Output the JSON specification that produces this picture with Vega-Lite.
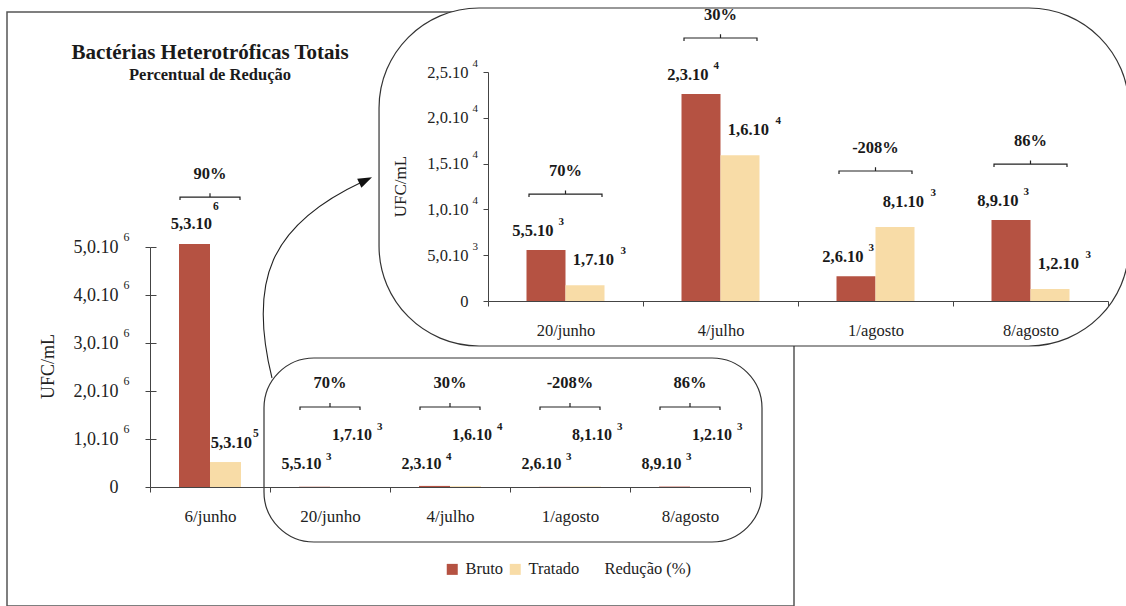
{
"$schema": "https://vega.github.io/schema/vega-lite/v6.json",
"autosize": {"type": "none"},
"padding": {"left": 7, "top": 12, "right": 332, "bottom": 0},
"width": 787,
"height": 594,
"background": "white",
"datasets": {
"medidas": [
{"data": "6/junho", "tipo": "Bruto", "valor": 5060000, "rotulo": "5,3.10", "expoente": "6"},
{"data": "6/junho", "tipo": "Tratado", "valor": 520000, "rotulo": "5,3.10", "expoente": "5"},
{"data": "20/junho", "tipo": "Bruto", "valor": 5560, "rotulo": "5,5.10", "expoente": "3"},
{"data": "20/junho", "tipo": "Tratado", "valor": 1730, "rotulo": "1,7.10", "expoente": "3"},
{"data": "4/julho", "tipo": "Bruto", "valor": 22600, "rotulo": "2,3.10", "expoente": "4"},
{"data": "4/julho", "tipo": "Tratado", "valor": 15900, "rotulo": "1,6.10", "expoente": "4"},
{"data": "1/agosto", "tipo": "Bruto", "valor": 2700, "rotulo": "2,6.10", "expoente": "3"},
{"data": "1/agosto", "tipo": "Tratado", "valor": 8080, "rotulo": "8,1.10", "expoente": "3"},
{"data": "8/agosto", "tipo": "Bruto", "valor": 8840, "rotulo": "8,9.10", "expoente": "3"},
{"data": "8/agosto", "tipo": "Tratado", "valor": 1300, "rotulo": "1,2.10", "expoente": "3"}
],
"reducoes": [
{"data": "6/junho", "reducao": 0.90},
{"data": "20/junho", "reducao": 0.70},
{"data": "4/julho", "reducao": 0.30},
{"data": "1/agosto", "reducao": -2.08},
{"data": "8/agosto", "reducao": 0.86}
],
"titulos": [
{"texto": "Bactérias Heterotróficas Totais", "nivel": "titulo"},
{"texto": "Percentual de Redução", "nivel": "subtitulo"}
]
},
"resolve": {"scale": {"x": "independent", "y": "independent", "xOffset": "independent", "color": "shared"}, "axis": {"x": "independent", "y": "independent"}},
"layer": [
{"data": {"values": [{}]},
 "mark": {"type": "rect", "fill": "white", "stroke": "#333", "strokeWidth": 1.2, "cornerRadius": 100},
 "encoding": {
  "x": {"datum": -0.703, "type": "quantitative", "scale": {"type": "linear", "domain": [0, 4], "range": [481, 1101], "nice": false, "zero": false}, "axis": null},
  "x2": {"datum": 4.135},
  "y": {"datum": 31987, "type": "quantitative", "scale": {"type": "linear", "domain": [0, 25000], "range": [289, 60], "nice": false, "zero": false}, "axis": null},
  "y2": {"datum": -4913}}},
{"data": {"values": [{}]},
 "mark": {"type": "rect", "fill": "transparent", "stroke": "#333", "strokeWidth": 1.2, "cornerRadius": 50},
 "encoding": {
  "x": {"datum": 0.95, "type": "quantitative", "scale": {"type": "linear", "domain": [0, 5], "range": [143, 743], "nice": false, "zero": false}, "axis": null},
  "x2": {"datum": 5.1},
  "y": {"datum": 2687500, "type": "quantitative", "scale": {"type": "linear", "domain": [0, 5000000], "range": [475, 235], "nice": false, "zero": false}, "axis": null},
  "y2": {"datum": -1145833}}},
{"data": {"values": [{}]},
 "mark": {"type": "point", "shape": "M-0.58,0.974C-0.82,0.004,-0.6,-0.556,0.32,-0.986", "size": 40000, "filled": false, "stroke": "#222", "strokeWidth": 1.1, "opacity": 1},
 "encoding": {
  "x": {"datum": 1.5, "type": "quantitative", "scale": {"type": "linear", "domain": [0, 5], "range": [143, 743], "nice": false, "zero": false}, "axis": null},
  "y": {"datum": 4300000, "type": "quantitative", "scale": {"type": "linear", "domain": [0, 5000000], "range": [475, 235], "nice": false, "zero": false}, "axis": null}}},
{"data": {"values": [{}]},
 "mark": {"type": "point", "shape": "M0.42,-1.033L0.314,-0.928L0.272,-1.018Z", "size": 40000, "filled": true, "fill": "#111", "strokeWidth": 0, "opacity": 1},
 "encoding": {
  "x": {"datum": 1.5, "type": "quantitative", "scale": {"type": "linear", "domain": [0, 5], "range": [143, 743], "nice": false, "zero": false}, "axis": null},
  "y": {"datum": 4300000, "type": "quantitative", "scale": {"type": "linear", "domain": [0, 5000000], "range": [475, 235], "nice": false, "zero": false}, "axis": null}}},
{"data": {"name": "titulos"},
 "transform": [{"filter": "datum.nivel == 'titulo'"}],
 "mark": {"type": "text", "align": "center", "fontSize": 21},
 "encoding": {
  "x": {"datum": "6/junho", "type": "nominal", "scale": {"type": "band", "domain": ["6/junho", "20/junho", "4/julho", "1/agosto", "8/agosto"], "range": [143, 743], "paddingInner": 0, "paddingOuter": 0}, "axis": null},
  "y": {"datum": 9041667, "type": "quantitative", "scale": {"type": "linear", "domain": [0, 5000000], "range": [475, 235], "nice": false, "zero": false}, "axis": null},
  "text": {"field": "texto", "type": "nominal"}}},
{"data": {"name": "titulos"},
 "transform": [{"filter": "datum.nivel == 'subtitulo'"}],
 "mark": {"type": "text", "align": "center", "fontSize": 16.5},
 "encoding": {
  "x": {"datum": "6/junho", "type": "nominal", "scale": {"type": "band", "domain": ["6/junho", "20/junho", "4/julho", "1/agosto", "8/agosto"], "range": [143, 743], "paddingInner": 0, "paddingOuter": 0}, "axis": null},
  "y": {"datum": 8583333, "type": "quantitative", "scale": {"type": "linear", "domain": [0, 5000000], "range": [475, 235], "nice": false, "zero": false}, "axis": null},
  "text": {"field": "texto", "type": "nominal"}}},
{"data": {"name": "medidas"},
 "mark": {"type": "bar"},
 "encoding": {
  "x": {"field": "data", "type": "nominal", "sort": null, "scale": {"type": "band", "domain": ["6/junho", "20/junho", "4/julho", "1/agosto", "8/agosto"], "range": [143, 743], "paddingInner": 0, "paddingOuter": 0},
        "axis": {"orient": "bottom", "zindex": 1, "title": null, "offset": -119, "tickBand": "extent", "tickSize": 5, "labelFontSize": 17, "labelPadding": 16, "labelAngle": 0}},
  "xOffset": {"field": "tipo", "type": "nominal", "scale": {"type": "band", "domain": ["Bruto", "Tratado"], "paddingInner": 0, "paddingOuter": 0.9355}},
  "y": {"field": "valor", "type": "quantitative", "scale": {"type": "linear", "domain": [0, 5000000], "range": [475, 235], "nice": false, "zero": false},
        "axis": {"orient": "left", "zindex": 1, "values": [0, 1000000, 2000000, 3000000, 4000000, 5000000], "offset": -143, "tickSize": 5, "labelFontSize": 18, "labelPadding": 27,
                 "labelExpr": "datum.value == 0 ? '0' : replace(format(datum.value / 1000000, '.1f'), '.', ',') + '.10'",
                 "title": "UFC/mL", "titleFontSize": 18, "titleX": -102, "titleY": 354, "titleAngle": -90, "titleAlign": "center", "titleBaseline": "middle"}},
  "color": {"field": "tipo", "type": "nominal", "scale": {"domain": ["Bruto", "Tratado", "Redução (%)"], "range": ["#b55242", "#f8dca7", "transparent"]},
            "legend": {"orient": "none", "legendX": 437, "legendY": 549, "direction": "horizontal", "title": null, "symbolType": "square", "symbolSize": 121, "symbolStrokeWidth": 0, "labelFont": "Liberation Serif", "labelFontSize": 16.5, "labelColor": "#222", "labelOffset": 5, "columnPadding": 3, "padding": 0}}}},
{"data": {"name": "medidas"},
 "mark": {"type": "point", "opacity": 0},
 "encoding": {
  "y": {"field": "valor", "type": "quantitative", "scale": {"type": "linear", "domain": [0, 5000000], "range": [475, 235], "nice": false, "zero": false},
        "axis": {"orient": "left", "zindex": 1, "values": [1000000, 2000000, 3000000, 4000000, 5000000], "offset": -143, "ticks": false, "domain": false, "labelAlign": "left", "labelPadding": 27, "labelFontSize": 12, "labelOffset": -11, "labelExpr": "'6'", "title": null}}}},
{"data": {"name": "medidas"},
 "mark": {"type": "point", "opacity": 0},
 "encoding": {
  "y": {"field": "valor", "type": "quantitative", "scale": {"type": "linear", "domain": [0, 5000000], "range": [475, 235], "nice": false, "zero": false},
        "axis": {"orient": "right", "zindex": 1, "values": [0, 1000000, 2000000, 3000000, 4000000, 5000000], "offset": -644, "ticks": true, "tickSize": 6, "domain": false, "labels": false, "title": null}}}},
{"data": {"name": "medidas"},
 "transform": [{"filter": "datum.data != '6/junho'"}],
 "mark": {"type": "bar"},
 "encoding": {
  "x": {"field": "data", "type": "nominal", "sort": null, "scale": {"type": "band", "domain": ["20/junho", "4/julho", "1/agosto", "8/agosto"], "range": [481, 1101], "paddingInner": 0, "paddingOuter": 0},
        "axis": {"orient": "bottom", "zindex": 1, "title": null, "offset": -305, "tickBand": "extent", "tickSize": 5, "labelFontSize": 16.5, "labelPadding": 16, "labelAngle": 0}},
  "xOffset": {"field": "tipo", "type": "nominal", "scale": {"type": "band", "domain": ["Bruto", "Tratado"], "paddingInner": 0, "paddingOuter": 0.987}},
  "y": {"field": "valor", "type": "quantitative", "scale": {"type": "linear", "domain": [0, 25000], "range": [289, 60], "nice": false, "zero": false},
        "axis": {"orient": "left", "zindex": 1, "values": [0, 5000, 10000, 15000, 20000, 25000], "offset": -481, "tickSize": 5, "labelFontSize": 16.5, "labelPadding": 15,
                 "labelExpr": "datum.value == 0 ? '0' : (datum.value >= 10000 ? replace(format(datum.value / 10000, '.1f'), '.', ',') : replace(format(datum.value / 1000, '.1f'), '.', ',')) + '.10'",
                 "title": "UFC/mL", "titleFontSize": 17, "titleX": -88, "titleY": 174, "titleAngle": -90, "titleAlign": "center", "titleBaseline": "middle"}},
  "color": {"field": "tipo", "type": "nominal", "scale": {"domain": ["Bruto", "Tratado", "Redução (%)"], "range": ["#b55242", "#f8dca7", "transparent"]},
            "legend": {"orient": "none", "legendX": 437, "legendY": 549, "direction": "horizontal", "title": null, "symbolType": "square", "symbolSize": 121, "symbolStrokeWidth": 0, "labelFont": "Liberation Serif", "labelFontSize": 16.5, "labelColor": "#222", "labelOffset": 5, "columnPadding": 3, "padding": 0}}}},
{"data": {"name": "medidas"},
 "mark": {"type": "point", "opacity": 0},
 "encoding": {
  "y": {"field": "valor", "type": "quantitative", "scale": {"type": "linear", "domain": [0, 25000], "range": [289, 60], "nice": false, "zero": false},
        "axis": {"orient": "left", "zindex": 1, "values": [5000, 10000, 15000, 20000, 25000], "offset": -481, "ticks": false, "domain": false, "labelAlign": "left", "labelPadding": 16, "labelFontSize": 11, "labelOffset": -9, "labelExpr": "datum.value >= 10000 ? '4' : '3'", "title": null}}}},
{"data": {"name": "medidas"},
 "transform": [{"filter": "datum.data == '6/junho' && datum.tipo == 'Bruto'"}],
 "mark": {"type": "text", "align": "right", "dx": 2, "dy": -20, "fontSize": 16.5},
 "encoding": {
  "x": {"field": "data", "type": "nominal", "sort": null, "scale": {"type": "band", "domain": ["6/junho", "20/junho", "4/julho", "1/agosto", "8/agosto"], "range": [143, 743], "paddingInner": 0, "paddingOuter": 0}, "axis": null},
  "y": {"field": "valor", "type": "quantitative", "scale": {"type": "linear", "domain": [0, 5000000], "range": [475, 235], "nice": false, "zero": false}, "axis": null},
  "text": {"field": "rotulo", "type": "nominal"}}},
{"data": {"name": "medidas"},
 "transform": [{"filter": "datum.data == '6/junho' && datum.tipo == 'Bruto'"}],
 "mark": {"type": "text", "align": "left", "dx": 3, "dy": -37, "fontSize": 11.5},
 "encoding": {
  "x": {"field": "data", "type": "nominal", "sort": null, "scale": {"type": "band", "domain": ["6/junho", "20/junho", "4/julho", "1/agosto", "8/agosto"], "range": [143, 743], "paddingInner": 0, "paddingOuter": 0}, "axis": null},
  "y": {"field": "valor", "type": "quantitative", "scale": {"type": "linear", "domain": [0, 5000000], "range": [475, 235], "nice": false, "zero": false}, "axis": null},
  "text": {"field": "expoente", "type": "nominal"}}},
{"data": {"name": "medidas"},
 "transform": [{"filter": "datum.data == '6/junho' && datum.tipo == 'Tratado'"}],
 "mark": {"type": "text", "align": "right", "dx": 42, "dy": -19, "fontSize": 16.5},
 "encoding": {
  "x": {"field": "data", "type": "nominal", "sort": null, "scale": {"type": "band", "domain": ["6/junho", "20/junho", "4/julho", "1/agosto", "8/agosto"], "range": [143, 743], "paddingInner": 0, "paddingOuter": 0}, "axis": null},
  "y": {"field": "valor", "type": "quantitative", "scale": {"type": "linear", "domain": [0, 5000000], "range": [475, 235], "nice": false, "zero": false}, "axis": null},
  "text": {"field": "rotulo", "type": "nominal"}}},
{"data": {"name": "medidas"},
 "transform": [{"filter": "datum.data == '6/junho' && datum.tipo == 'Tratado'"}],
 "mark": {"type": "text", "align": "left", "dx": 43, "dy": -28, "fontSize": 11.5},
 "encoding": {
  "x": {"field": "data", "type": "nominal", "sort": null, "scale": {"type": "band", "domain": ["6/junho", "20/junho", "4/julho", "1/agosto", "8/agosto"], "range": [143, 743], "paddingInner": 0, "paddingOuter": 0}, "axis": null},
  "y": {"field": "valor", "type": "quantitative", "scale": {"type": "linear", "domain": [0, 5000000], "range": [475, 235], "nice": false, "zero": false}, "axis": null},
  "text": {"field": "expoente", "type": "nominal"}}},
{"data": {"name": "medidas"},
 "transform": [{"filter": "datum.data == '6/junho'"}, {"aggregate": [{"op": "max", "field": "valor", "as": "maximo"}], "groupby": ["data"]}, {"lookup": "data", "from": {"data": {"name": "reducoes"}, "key": "data", "fields": ["reducao"]}}],
 "mark": {"type": "point", "shape": "M-1,0.1L-1,0L1,0L1,0.1M0,0L0,-0.13", "size": 3600, "filled": false, "stroke": "#222", "strokeWidth": 1.2, "opacity": 1},
 "encoding": {
  "x": {"field": "data", "type": "nominal", "sort": null, "scale": {"type": "band", "domain": ["6/junho", "20/junho", "4/julho", "1/agosto", "8/agosto"], "range": [143, 743], "paddingInner": 0, "paddingOuter": 0}, "axis": null},
  "y": {"field": "maximo", "type": "quantitative", "scale": {"type": "linear", "domain": [0, 5000000], "range": [428, 188], "nice": false, "zero": false}, "axis": null}}},
{"data": {"name": "medidas"},
 "transform": [{"filter": "datum.data == '6/junho'"}, {"aggregate": [{"op": "max", "field": "valor", "as": "maximo"}], "groupby": ["data"]}, {"lookup": "data", "from": {"data": {"name": "reducoes"}, "key": "data", "fields": ["reducao"]}}],
 "mark": {"type": "text", "align": "center", "dy": -23, "fontSize": 16.5},
 "encoding": {
  "x": {"field": "data", "type": "nominal", "sort": null, "scale": {"type": "band", "domain": ["6/junho", "20/junho", "4/julho", "1/agosto", "8/agosto"], "range": [143, 743], "paddingInner": 0, "paddingOuter": 0}, "axis": null},
  "y": {"field": "maximo", "type": "quantitative", "scale": {"type": "linear", "domain": [0, 5000000], "range": [428, 188], "nice": false, "zero": false}, "axis": null},
  "text": {"field": "reducao", "type": "quantitative", "format": ".0%"}}},
{"data": {"name": "medidas"},
 "transform": [{"filter": "datum.data != '6/junho' && datum.tipo == 'Bruto'"}],
 "mark": {"type": "text", "align": "right", "dx": -8.5, "fontSize": 16},
 "encoding": {
  "x": {"field": "data", "type": "nominal", "sort": null, "scale": {"type": "band", "domain": ["6/junho", "20/junho", "4/julho", "1/agosto", "8/agosto"], "range": [143, 743], "paddingInner": 0, "paddingOuter": 0}, "axis": null},
  "y": {"datum": 479000, "type": "quantitative", "scale": {"type": "linear", "domain": [0, 5000000], "range": [475, 235], "nice": false, "zero": false}, "axis": null},
  "text": {"field": "rotulo", "type": "nominal"}}},
{"data": {"name": "medidas"},
 "transform": [{"filter": "datum.data != '6/junho' && datum.tipo == 'Bruto'"}],
 "mark": {"type": "text", "align": "left", "dx": -4, "dy": -7, "fontSize": 11},
 "encoding": {
  "x": {"field": "data", "type": "nominal", "sort": null, "scale": {"type": "band", "domain": ["6/junho", "20/junho", "4/julho", "1/agosto", "8/agosto"], "range": [143, 743], "paddingInner": 0, "paddingOuter": 0}, "axis": null},
  "y": {"datum": 479000, "type": "quantitative", "scale": {"type": "linear", "domain": [0, 5000000], "range": [475, 235], "nice": false, "zero": false}, "axis": null},
  "text": {"field": "expoente", "type": "nominal"}}},
{"data": {"name": "medidas"},
 "transform": [{"filter": "datum.data != '6/junho' && datum.tipo == 'Tratado'"}],
 "mark": {"type": "text", "align": "right", "dx": 42, "fontSize": 16},
 "encoding": {
  "x": {"field": "data", "type": "nominal", "sort": null, "scale": {"type": "band", "domain": ["6/junho", "20/junho", "4/julho", "1/agosto", "8/agosto"], "range": [143, 743], "paddingInner": 0, "paddingOuter": 0}, "axis": null},
  "y": {"datum": 1083000, "type": "quantitative", "scale": {"type": "linear", "domain": [0, 5000000], "range": [475, 235], "nice": false, "zero": false}, "axis": null},
  "text": {"field": "rotulo", "type": "nominal"}}},
{"data": {"name": "medidas"},
 "transform": [{"filter": "datum.data != '6/junho' && datum.tipo == 'Tratado'"}],
 "mark": {"type": "text", "align": "left", "dx": 47, "dy": -8, "fontSize": 11},
 "encoding": {
  "x": {"field": "data", "type": "nominal", "sort": null, "scale": {"type": "band", "domain": ["6/junho", "20/junho", "4/julho", "1/agosto", "8/agosto"], "range": [143, 743], "paddingInner": 0, "paddingOuter": 0}, "axis": null},
  "y": {"datum": 1083000, "type": "quantitative", "scale": {"type": "linear", "domain": [0, 5000000], "range": [475, 235], "nice": false, "zero": false}, "axis": null},
  "text": {"field": "expoente", "type": "nominal"}}},
{"data": {"name": "reducoes"},
 "transform": [{"filter": "datum.data != '6/junho'"}],
 "mark": {"type": "point", "shape": "M-1,0.1L-1,0L1,0L1,0.1M0,0L0,-0.13", "size": 3600, "filled": false, "stroke": "#222", "strokeWidth": 1.2, "opacity": 1},
 "encoding": {
  "x": {"field": "data", "type": "nominal", "sort": null, "scale": {"type": "band", "domain": ["6/junho", "20/junho", "4/julho", "1/agosto", "8/agosto"], "range": [143, 743], "paddingInner": 0, "paddingOuter": 0}, "axis": null},
  "y": {"datum": 1666667, "type": "quantitative", "scale": {"type": "linear", "domain": [0, 5000000], "range": [475, 235], "nice": false, "zero": false}, "axis": null}}},
{"data": {"name": "reducoes"},
 "transform": [{"filter": "datum.data != '6/junho'"}],
 "mark": {"type": "text", "align": "center", "dy": -24, "fontSize": 16.5},
 "encoding": {
  "x": {"field": "data", "type": "nominal", "sort": null, "scale": {"type": "band", "domain": ["6/junho", "20/junho", "4/julho", "1/agosto", "8/agosto"], "range": [143, 743], "paddingInner": 0, "paddingOuter": 0}, "axis": null},
  "y": {"datum": 1666667, "type": "quantitative", "scale": {"type": "linear", "domain": [0, 5000000], "range": [475, 235], "nice": false, "zero": false}, "axis": null},
  "text": {"field": "reducao", "type": "quantitative", "format": ".0%"}}},
{"data": {"name": "medidas"},
 "transform": [{"filter": "datum.data != '6/junho' && datum.tipo == 'Bruto'"}],
 "mark": {"type": "text", "align": "right", "dx": -12, "dy": -19, "fontSize": 16.5},
 "encoding": {
  "x": {"field": "data", "type": "nominal", "sort": null, "scale": {"type": "band", "domain": ["20/junho", "4/julho", "1/agosto", "8/agosto"], "range": [481, 1101], "paddingInner": 0, "paddingOuter": 0}, "axis": null},
  "y": {"field": "valor", "type": "quantitative", "scale": {"type": "linear", "domain": [0, 25000], "range": [289, 60], "nice": false, "zero": false}, "axis": null},
  "text": {"field": "rotulo", "type": "nominal"}}},
{"data": {"name": "medidas"},
 "transform": [{"filter": "datum.data != '6/junho' && datum.tipo == 'Bruto'"}],
 "mark": {"type": "text", "align": "left", "dx": -7, "dy": -28, "fontSize": 11},
 "encoding": {
  "x": {"field": "data", "type": "nominal", "sort": null, "scale": {"type": "band", "domain": ["20/junho", "4/julho", "1/agosto", "8/agosto"], "range": [481, 1101], "paddingInner": 0, "paddingOuter": 0}, "axis": null},
  "y": {"field": "valor", "type": "quantitative", "scale": {"type": "linear", "domain": [0, 25000], "range": [289, 60], "nice": false, "zero": false}, "axis": null},
  "text": {"field": "expoente", "type": "nominal"}}},
{"data": {"name": "medidas"},
 "transform": [{"filter": "datum.data != '6/junho' && datum.tipo == 'Tratado'"}],
 "mark": {"type": "text", "align": "right", "dx": 48.5, "dy": -25, "fontSize": 16.5},
 "encoding": {
  "x": {"field": "data", "type": "nominal", "sort": null, "scale": {"type": "band", "domain": ["20/junho", "4/julho", "1/agosto", "8/agosto"], "range": [481, 1101], "paddingInner": 0, "paddingOuter": 0}, "axis": null},
  "y": {"field": "valor", "type": "quantitative", "scale": {"type": "linear", "domain": [0, 25000], "range": [289, 60], "nice": false, "zero": false}, "axis": null},
  "text": {"field": "rotulo", "type": "nominal"}}},
{"data": {"name": "medidas"},
 "transform": [{"filter": "datum.data != '6/junho' && datum.tipo == 'Tratado'"}],
 "mark": {"type": "text", "align": "left", "dx": 55, "dy": -34, "fontSize": 11},
 "encoding": {
  "x": {"field": "data", "type": "nominal", "sort": null, "scale": {"type": "band", "domain": ["20/junho", "4/julho", "1/agosto", "8/agosto"], "range": [481, 1101], "paddingInner": 0, "paddingOuter": 0}, "axis": null},
  "y": {"field": "valor", "type": "quantitative", "scale": {"type": "linear", "domain": [0, 25000], "range": [289, 60], "nice": false, "zero": false}, "axis": null},
  "text": {"field": "expoente", "type": "nominal"}}},
{"data": {"name": "medidas"},
 "transform": [{"filter": "datum.data != '6/junho'"}, {"aggregate": [{"op": "max", "field": "valor", "as": "maximo"}], "groupby": ["data"]}, {"lookup": "data", "from": {"data": {"name": "reducoes"}, "key": "data", "fields": ["reducao"]}}],
 "mark": {"type": "point", "shape": "M-1,0.08L-1,0L1,0L1,0.08M0,0L0,-0.1", "size": 5329, "filled": false, "stroke": "#222", "strokeWidth": 1.2, "opacity": 1},
 "encoding": {
  "x": {"field": "data", "type": "nominal", "sort": null, "scale": {"type": "band", "domain": ["20/junho", "4/julho", "1/agosto", "8/agosto"], "range": [481, 1101], "paddingInner": 0, "paddingOuter": 0}, "axis": null},
  "y": {"field": "maximo", "type": "quantitative", "scale": {"type": "linear", "domain": [0, 25000], "range": [233, 4], "nice": false, "zero": false}, "axis": null}}},
{"data": {"name": "medidas"},
 "transform": [{"filter": "datum.data != '6/junho'"}, {"aggregate": [{"op": "max", "field": "valor", "as": "maximo"}], "groupby": ["data"]}, {"lookup": "data", "from": {"data": {"name": "reducoes"}, "key": "data", "fields": ["reducao"]}}],
 "mark": {"type": "text", "align": "center", "dy": -23, "fontSize": 16.5},
 "encoding": {
  "x": {"field": "data", "type": "nominal", "sort": null, "scale": {"type": "band", "domain": ["20/junho", "4/julho", "1/agosto", "8/agosto"], "range": [481, 1101], "paddingInner": 0, "paddingOuter": 0}, "axis": null},
  "y": {"field": "maximo", "type": "quantitative", "scale": {"type": "linear", "domain": [0, 25000], "range": [233, 4], "nice": false, "zero": false}, "axis": null},
  "text": {"field": "reducao", "type": "quantitative", "format": ".0%"}}}
],
"config": {
 "view": {"stroke": "#555", "strokeWidth": 1.5, "fill": "white"},
 "locale": {"number": {"decimal": ",", "thousands": ".", "grouping": [3], "currency": ["R$", ""], "minus": "-"}},
 "axis": {"grid": false, "domainColor": "#444", "tickColor": "#444", "labelColor": "#222", "labelFont": "Liberation Serif", "titleFont": "Liberation Serif", "titleColor": "#222", "titleFontWeight": "normal", "labelFlush": false, "labelOverlap": false, "domainWidth": 1, "tickWidth": 1},
 "text": {"font": "Liberation Serif", "fontWeight": "bold", "color": "#1a1a1a", "baseline": "middle"}
}
}
